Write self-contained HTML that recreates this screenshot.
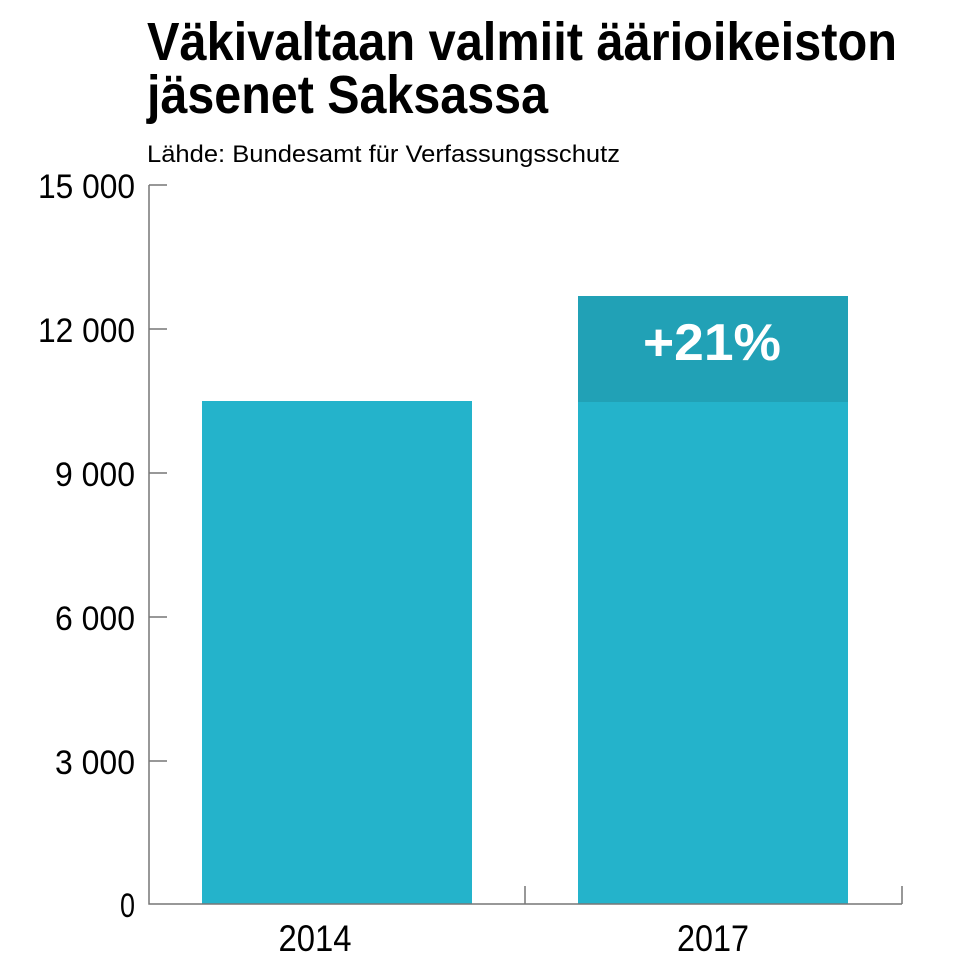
<!DOCTYPE html>
<html><head><meta charset="utf-8"><style>body{margin:0;background:#fff}svg{display:block}</style></head><body>
<svg width="960" height="960" xmlns="http://www.w3.org/2000/svg" font-family="Liberation Sans, sans-serif">
<text x="147" y="60" font-size="54" font-weight="bold" textLength="750" lengthAdjust="spacingAndGlyphs">Väkivaltaan valmiit äärioikeiston</text>
<text x="147" y="113" font-size="54" font-weight="bold" textLength="401" lengthAdjust="spacingAndGlyphs">jäsenet Saksassa</text>
<text x="147" y="162" font-size="24" textLength="473" lengthAdjust="spacingAndGlyphs">Lähde: Bundesamt für Verfassungsschutz</text>
<rect x="202" y="401" width="270" height="503" fill="#24b3cb"/>
<rect x="578" y="402" width="270" height="502" fill="#24b3cb"/>
<rect x="578" y="296" width="270" height="106" fill="#21a1b6"/>
<text x="712" y="360" font-size="52" font-weight="bold" fill="#fff" text-anchor="middle" textLength="138" lengthAdjust="spacingAndGlyphs">+21%</text>
<g stroke="#777" stroke-width="1.5" fill="none">
<path d="M149 185V904H902M149 185H167M149 329H167M149 473H167M149 617H167M149 761H167M525 904V886M902 904V886"/>
</g>
<g font-size="34" text-anchor="end">
<text x="135" y="198" textLength="97" lengthAdjust="spacingAndGlyphs">15 000</text>
<text x="135" y="342" textLength="97" lengthAdjust="spacingAndGlyphs">12 000</text>
<text x="135" y="486" textLength="80" lengthAdjust="spacingAndGlyphs">9 000</text>
<text x="135" y="630" textLength="80" lengthAdjust="spacingAndGlyphs">6 000</text>
<text x="135" y="774" textLength="80" lengthAdjust="spacingAndGlyphs">3 000</text>
<text x="135" y="917" textLength="15" lengthAdjust="spacingAndGlyphs">0</text>
</g>
<g font-size="37" text-anchor="middle">
<text x="315" y="951" textLength="73" lengthAdjust="spacingAndGlyphs">2014</text>
<text x="713" y="951" textLength="72" lengthAdjust="spacingAndGlyphs">2017</text>
</g>
</svg>
</body></html>
